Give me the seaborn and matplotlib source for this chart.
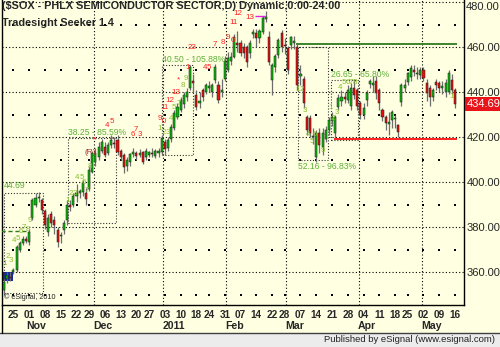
import numpy as np
import pandas as pd
import matplotlib
matplotlib.use("Agg")
import matplotlib.pyplot as plt
import matplotlib.transforms as mtrans
from matplotlib.patches import Rectangle
from matplotlib.lines import Line2D
import seaborn as sns

# ---------------- data ----------------
START = "2010-10-20"
END = "2011-05-16"
HOLIDAYS = ["2010-11-25", "2010-12-24", "2011-01-17", "2011-02-21", "2011-04-22"]

OPEN = [352, 357, 358, 360, 361, 370, 373, 374.5, 373.5, 384, 390, 393, 392, 387, 378, 386, 383, 378.5, 376, 378.5,
        383, 390, 390, 394, 395, 395.6, 395, 397, 404.5, 409, 411, 414, 415.5, 413, 416.4, 417.5, 418.7, 414, 412, 407,
        409, 412.5, 413, 412, 413.5, 411, 412, 413, 411.5, 413, 413.3, 418, 415, 419, 424, 429, 432, 434.5, 438, 441.8,
        445, 438.7, 435, 440.9, 440, 442, 440, 445.3, 443, 440, 446, 450, 454, 455.6, 462, 461.8, 460, 460, 457.3, 466,
        466.2, 464, 466.7, 472.5, 464.4, 445.3, 451, 456.4, 466.2, 461, 459.6, 461, 462, 460, 447, 446, 429, 428.5, 420, 411,
        422, 415.5, 419, 423, 427, 422, 433.3, 436, 438, 436.4, 434, 441.8, 441, 435, 430, 436.4, 443.6, 443, 445, 441,
        432, 429, 426, 427.6, 428, 425.3, 435.6, 442, 444.4, 446.7, 450, 448, 447.5, 449.8, 444, 442, 437.8, 444.4, 444, 442,
        440, 440, 445.3, 441]
HIGH = [357, 360, 360, 362, 372, 374, 376, 376, 379, 393, 395, 395.5, 393, 388, 386, 387, 385, 380, 378, 383,
        392, 392, 395, 399, 397, 401, 397.5, 407, 414, 415, 418, 419, 418, 418, 421, 420, 421, 414.5, 413, 411,
        413, 415, 414, 414.5, 414, 415, 414, 415, 414.5, 415, 421, 419, 420, 426, 432, 435, 438, 440, 442, 452,
        448, 441, 440, 442, 444, 445, 444, 452.5, 445, 446, 456, 458, 458, 466, 467, 463, 462, 461, 463, 468,
        468, 468, 474, 476, 467, 453, 457, 464, 467.5, 464, 460.5, 465, 465, 461.2, 452, 447, 430, 430, 424, 423,
        424, 424, 425, 429, 431, 430, 439, 441, 440, 443, 444, 446, 442, 436, 435, 441, 446, 447, 447, 442,
        433, 430, 431, 432, 430, 426, 444, 446, 449, 452, 452, 451, 451, 451, 446, 443, 442, 446, 445, 445,
        446, 450, 448, 442]
LOW = [350, 355, 356, 359, 360, 369, 372, 373, 372, 383, 389, 391, 386, 379, 376, 380, 377, 371, 373, 377,
       381, 387, 389, 391, 393, 394, 390, 396, 404, 407, 410, 413, 411, 412, 415, 415, 412, 410, 404, 405,
       407, 411, 410, 411, 408, 410, 411, 411, 410.5, 411, 412, 412, 414, 418, 423, 428, 431, 433, 436, 441,
       440, 432, 433, 436, 439, 440, 438, 444, 435, 438, 445, 449, 452, 455, 458, 456, 455, 451, 455, 464,
       460, 462, 466, 471, 452, 438.7, 449, 455, 458, 457, 448, 459, 459, 441, 443, 433, 421, 420, 417, 409,
       413, 412, 418, 421, 425, 419, 432, 434, 435, 435, 432, 437, 432, 428, 428, 434, 442, 440, 437, 432,
       427, 423, 421, 424, 424, 420, 434, 440, 443, 445, 447, 446, 446, 445, 436, 434, 436, 441, 440, 439,
       438, 439, 439, 433]
CLOSE = [355.6, 358.5, 357.5, 361, 371, 373, 374.5, 374, 378, 392, 393, 393.5, 387.6, 381, 384, 382, 381, 373.3, 376.5, 382,
         390, 389, 394, 395, 396, 399.6, 392.5, 405.5, 413, 413, 415.5, 417.8, 412, 416.5, 418.7, 417, 413.3, 411, 406.5, 409.8,
         412.5, 413.5, 411.5, 413, 409, 414, 413.5, 412.5, 414, 414, 419.6, 414.5, 418.5, 424.5, 430.7, 433.3, 436.4, 438.7, 440, 451,
         444, 433.3, 436, 437.8, 443, 442.5, 443.1, 451, 436.4, 441, 454, 455, 455.5, 464.4, 461, 457.3, 457.5, 453.3, 461.8, 466.7,
         464, 467, 472.9, 473.5, 453.3, 452, 456, 463, 460, 460.5, 449.8, 464.4, 462.5, 443, 448, 435, 423, 422, 420.5, 422,
         416.5, 422, 423, 427.6, 429, 429, 437.3, 438, 437, 441, 441.8, 438.7, 434, 430, 433, 439.6, 445, 444, 439.6, 435,
         429, 426.2, 426.5, 431, 428.5, 422.2, 443, 443, 448.4, 450.7, 449, 448.5, 449.8, 446.2, 439.6, 437.8, 441, 443, 441.8, 442.5,
         444, 448.4, 440.9, 434.69]

TICK_DATES = ["2010-10-25", "2010-11-01", "2010-11-08", "2010-11-15", "2010-11-22", "2010-11-29", "2010-12-06",
              "2010-12-13", "2010-12-20", "2010-12-27", "2011-01-03", "2011-01-10", "2011-01-18", "2011-01-24",
              "2011-01-31", "2011-02-07", "2011-02-14", "2011-02-22", "2011-02-28", "2011-03-07", "2011-03-14",
              "2011-03-21", "2011-03-28", "2011-04-04", "2011-04-11", "2011-04-18", "2011-04-25", "2011-05-02",
              "2011-05-09", "2011-05-16"]
MONTH_LABELS = ["Nov", "Dec", "2011", "Feb", "Mar", "Apr", "May"]
MONTH_STARTS = ["2010-11-01", "2010-12-01", "2011-01-03", "2011-02-01", "2011-03-01", "2011-04-01", "2011-05-02"]
MONTH_LINES = ["2010-12-01", "2011-01-03", "2011-02-01", "2011-03-01", "2011-04-01", "2011-05-02"]

Y_TICKS = [360, 380, 400, 420, 440, 460, 480]
Y_MINOR = [350, 370, 390, 410, 430, 450, 470]
LAST_PRICE = 434.69

RESIST = 461.2
RESIST_FROM = "2011-03-04"
SUPPORT = 419.0
SUPPORT_FROM = "2011-03-22"

# boxes: (x0, x1, y0, y1, label, label_y, label_va)
BOXES = [(-0.15, 12.4, 350.7, 395.1, "44.69", 396.6, "bottom"),
         (20.3, 35.5, 381.8, 419.6, "38.25 - 85.59%", 420.2, "bottom"),
         (50.1, 59.9, 412.0, 452.0, "40.50 - 105.88%", 452.6, "bottom"),
         (93.2, 102.7, 409.8, 460.0, "52.16 - 96.83%", 409.0, "top"),
         (103.7, 112.2, 418.7, 445.3, "26.65 - 65.80%", 446.0, "bottom")]

GREEN_COUNTS = [(0.3, 363.6, "1"), (1.1, 366.7, "2"), (2.3, 365.3, "3"), (3.2, 374.2, "4"), (4.4, 374.7, "5"),
                (5.2, 378.0, "6"), (6.3, 379.6, "7"), (7.5, 379.1, "8"), (8.3, 382.8, "9"),
                (20.3, 392.0, "1"), (21.2, 395.1, "2"), (22.5, 395.1, "3"), (23.3, 402.2, "4"), (24.6, 402.2, "5"),
                (25.4, 399.6, "6"), (26.3, 396.4, "7"), (27.3, 406.7, "8"),
                (49.5, 424.0, "1"), (50.7, 421.8, "2"), (52.0, 421.8, "3"), (53.0, 428.4, "4"), (54.0, 432.9, "5"),
                (55.5, 435.1, "7"), (56.8, 443.1, "8"), (57.7, 446.2, "9"),
                (93.2, 440.9, "1"), (94.5, 440.9, "2"), (95.4, 432.0, "3"), (96.4, 420.9, "4"), (97.7, 418.2, "5"),
                (98.6, 420.9, "6"), (101.1, 414.2, "9"),
                (103.7, 432.9, "1"), (104.3, 428.4, "2"), (105.6, 431.1, "3"), (106.5, 441.8, "4"), (107.7, 444.4, "5"),
                (108.9, 444.4, "6"), (110.1, 444.4, "7"), (111.3, 444.4, "8"),
                (142.0, 437.8, "1")]
RED_COUNTS = [(28.5, 418.7, "*"), (32.7, 425.3, "4"), (34.2, 426.7, "5"), (40.8, 421.3, "6"), (41.8, 423.3, "7"),
              (43.0, 421.3, "3"), (49.5, 428.4, "9"), (50.7, 427.1, "0"), (51.0, 433.3, "11"), (52.6, 436.4, "12"),
              (54.5, 439.6, "13"), (55.2, 445.3, "*"), (58.3, 450.7, "1"), (63.7, 450.7, "4"), (65.0, 451.1, "5"),
              (59.6, 460.0, "23"), (66.9, 460.9, "7"), (69.4, 462.2, "8"), (71.0, 464.4, "9"), (72.6, 463.1, "0"),
              (72.9, 471.1, "11"), (74.2, 475.1, "12"), (78.0, 472.9, "13")]

# ---------------- frame ----------------
sns.set_style("white")
plt.rcParams["font.family"] = ["Liberation Sans", "DejaVu Sans"]

BG = "#FFFFE1"
fig = plt.figure(figsize=(5.0, 3.47), dpi=100, facecolor=BG)
ax = fig.add_axes([0.003, 0.121, 0.925, 0.879])
ax.set_facecolor(BG)

dates = pd.bdate_range(START, END)
dates = dates[~dates.isin(pd.to_datetime(HOLIDAYS))]
n = min(len(dates), len(CLOSE))
df = pd.DataFrame({"date": dates[:n], "open": OPEN[:n], "high": HIGH[:n], "low": LOW[:n], "close": CLOSE[:n]})
df["pos"] = np.arange(n)
loc = {d: i for i, d in enumerate(df["date"])}
def P(d):
    return loc[pd.Timestamp(d)]

ax.set_xlim(-0.79, 145.85)
ax.set_ylim(345.33, 480.89)

# grid: major dotted lines, minor sparse dots, month lines
for yv in Y_TICKS:
    ax.axhline(yv, color="black", lw=0.8, ls=(0, (1, 2.0)), zorder=1)
for d in MONTH_LINES:
    ax.axvline(P(d) - 0.5, color="black", lw=0.8, ls=(0, (1, 2.0)), zorder=1)
tick_pos = [P(d) for d in TICK_DATES]
gx, gy = np.meshgrid(tick_pos, Y_MINOR)
sns.scatterplot(x=gx.ravel(), y=gy.ravel(), ax=ax, s=0.9, color="black", marker="s", linewidth=0, zorder=1, legend=False)

# highlight box at start
ax.add_patch(Rectangle((-0.3, 356.0), 3.2, 4.2, facecolor="#1428A0", edgecolor="none", zorder=2))

# annotation boxes
for x0, x1, y0, y1, lab, ly, va in BOXES:
    ax.add_patch(Rectangle((x0, y0), x1 - x0, y1 - y0, fill=False, edgecolor="#333333", lw=0.8,
                           ls=(0, (1, 1.6)), zorder=2))
    ax.text(x0, ly, lab, color="#5FAF3A", fontsize=6.2, ha="left", va=va, zorder=6)

# levels
ax.hlines(RESIST, P(RESIST_FROM) - 0.3, 143.6, color="#2F7A1F", lw=1.3, zorder=3)
ax.hlines(SUPPORT, P(SUPPORT_FROM) - 0.3, 143.6, color="#FF1010", lw=1.3, zorder=3)
ax.hlines(378.2, -0.8, 8.0, color="#2F7A1F", lw=1.0, ls=(0, (3, 2)), zorder=3)
ax.hlines(473.6, 79.6, 82.8, color="#E020E0", lw=1.0, zorder=3)

# candles
up = df["close"] >= df["open"]
bottom = np.minimum(df["open"], df["close"])
height = np.maximum((df["close"] - df["open"]).abs(), 0.45)
ax.vlines(df["pos"], df["low"], df["high"], color="#6E6E6E", lw=0.9, zorder=4)
ax.bar(df["pos"], height, bottom=bottom, width=0.66,
       color=np.where(up, "#0CB80C", "#E81010"), edgecolor="#1A1A1A", linewidth=0.35, zorder=5)

# counts
for x, y, t in GREEN_COUNTS:
    ax.text(x, y, t, color="#86BE2C", fontsize=5.8, ha="center", va="center", zorder=6)
for x, y, t in RED_COUNTS:
    ax.text(x, y, t, color="#FF2020", fontsize=5.8, ha="center", va="center", zorder=6)
ax.text(27.3, 412.9, "(R)", color="#A03030", fontsize=6.0, ha="center", va="center", zorder=6)

# titles
ax.text(0.002, 0.998, "($SOX - PHLX SEMICONDUCTOR SECTOR,D) Dynamic,0:00-24:00", transform=ax.transAxes,
        fontsize=7.8, fontweight="bold", ha="left", va="top", zorder=7)
ax.text(0.002, 0.940, "Tradesight Seeker 1.4", transform=ax.transAxes,
        fontsize=7.8, fontweight="bold", ha="left", va="top", zorder=7)
ax.text(0.006, 0.012, "\u00a9 eSignal, 2010", transform=ax.transAxes, fontsize=5.2, ha="left", va="bottom",
        color="#222222", zorder=7)

# axes styling
ax.spines["top"].set_visible(False)
for s in ["left", "right", "bottom"]:
    ax.spines[s].set_visible(True)
    ax.spines[s].set_color("black")
    ax.spines[s].set_linewidth(1.0)
ax.yaxis.tick_right()
ax.set_yticks(Y_TICKS[:-1])
ax.set_yticklabels([f"{v:.2f}" for v in Y_TICKS[:-1]], fontsize=8.0)
ax.tick_params(axis="y", length=0, pad=2)
ax.text(1.004, 480.0, f"{Y_TICKS[-1]:.2f}", transform=mtrans.blended_transform_factory(ax.transAxes, ax.transData),
        fontsize=8.0, ha="left", va="top")
ax.text(1.006, LAST_PRICE, f"{LAST_PRICE:.2f}", transform=mtrans.blended_transform_factory(ax.transAxes, ax.transData),
        fontsize=8.0, color="white", ha="left", va="center",
        bbox=dict(facecolor="#E8141A", edgecolor="none", pad=1.6), zorder=8, clip_on=False)

ax.set_xticks(tick_pos)
ax.set_xticklabels([pd.Timestamp(d).strftime("%d") for d in TICK_DATES], fontsize=7.2, fontweight="bold")
ax.tick_params(axis="x", length=2, pad=1.5, width=0.8)
xform = mtrans.blended_transform_factory(ax.transData, ax.transAxes)
for lab, d in zip(MONTH_LABELS, MONTH_STARTS):
    ax.text(P(d) - 0.8, -0.070, lab, transform=xform, fontsize=7.6, fontweight="bold",
            ha="left", va="center", clip_on=False)
ax.set_xlabel("")
ax.set_ylabel("")

# bottom strip
fig.add_artist(Rectangle((0, 0), 1, 14 / 347, transform=fig.transFigure, facecolor="#ECECEC", edgecolor="none"))
fig.add_artist(Line2D([0, 1], [14 / 347, 14 / 347], transform=fig.transFigure, color="#404040", lw=1.0))
fig.add_artist(Line2D([0.003, 0.003], [14 / 347, 0.121], transform=fig.transFigure, color="black", lw=1.0))
fig.text(0.99, 7.5 / 347, "Published by eSignal (www.esignal.com)", fontsize=6.8, ha="right", va="center",
         color="#222222")

fig.savefig("out.png", dpi=100, facecolor=BG)
